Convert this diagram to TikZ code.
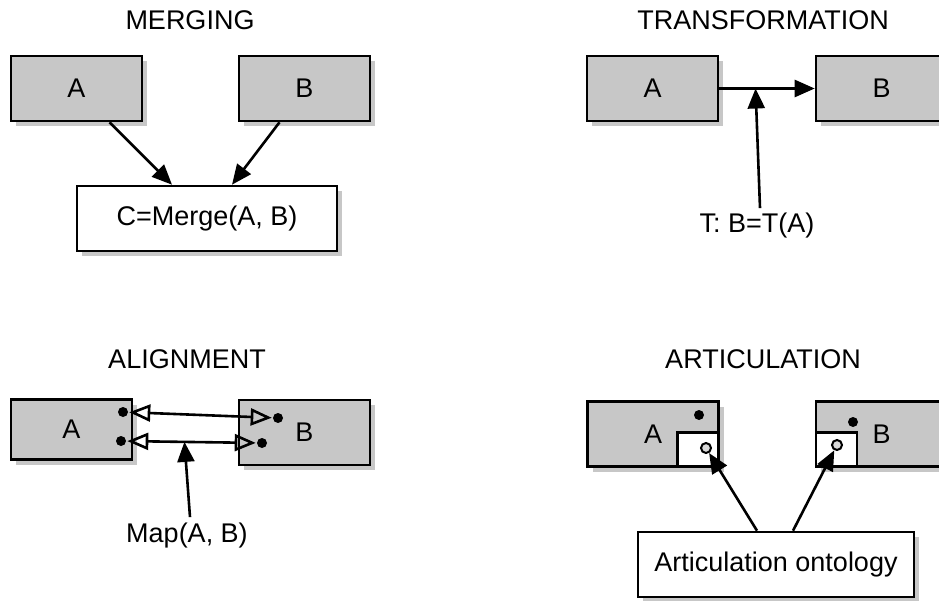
\documentclass[tikz,border=0pt]{standalone}
\usepackage{fontspec}
\setmainfont{Liberation Sans}
\usetikzlibrary{arrows.meta,shadows,calc}

\begin{document}
\begin{tikzpicture}[x=1pt, y=-1pt, line width=2.6pt,
        font=\fontsize{27}{32}\selectfont,
        onto/.style={rectangle, draw, fill=black!22, minimum width=131pt, minimum height=65pt, inner sep=0pt,
            drop shadow={shadow xshift=5pt, shadow yshift=-5pt, fill=black, opacity=0.22}},
        result/.style={onto, fill=white},
        part/.style={rectangle, draw, fill=white, minimum width=41pt, minimum height=34pt, inner sep=0pt},
        dot/.style={circle, fill, inner sep=0pt, minimum size=10pt},
        hole/.style={circle, draw, fill=black!15, inner sep=0pt, minimum size=10pt, line width=2pt},
        arr/.style={-{Triangle[length=20pt, width=17pt]}},
        maparr/.style={{Triangle[open, length=21pt, width=17pt]}-{Triangle[open, length=21pt, width=17pt]}}]
                        \useasboundingbox (0, 0) rectangle (939, 601);

                        \node (mTitle) at (190, 20) {MERGING};
                        \node (mA) at (76.5, 88.5) [onto] {A};
                        \node (mB) at (304.5, 88.5) [onto] {B};
                        \node (mC) at (207, 218.5) [result, minimum width=260pt] {C=Merge(A, B)};

                        \draw[arr] ([xshift=33pt]mA.south) -- ([xshift=-35pt]mC.north);
                        \draw[arr] ([xshift=-25pt]mB.south) -- ([xshift=25pt]mC.north);

                        \node (tTitle) at (763, 20) {TRANSFORMATION};
                        \node (tA) at (652.5, 88.5) [onto] {A};
                        \node (tB) at (881.5, 88.5) [onto] {B};
                        \node (tT) at (757, 233) [anchor=base, inner sep=4pt] {T: B=T(A)};
                        \coordinate (tM) at ($(tA.east)!0.38!(tB.west)$);

                        \draw[arr] (tA) -- (tB);
                        \draw[arr] ([xshift=3pt]tT.north) -- (tM);

                        \node (aTitle) at (187, 359) {ALIGNMENT};
                        \node (aA) at (71.5, 429.5) [onto, minimum width=121pt, minimum height=60pt] {A};
                        \node (aB) at (304.5, 432.5) [onto] {B};
                        \node (aA1) at (123, 412) [dot] {};
                        \node (aA2) at (121, 441) [dot] {};
                        \node (aB1) at (278, 418) [dot] {};
                        \node (aB2) at (262, 443) [dot] {};
                        \node (aMap) at (187, 542) [anchor=base, inner sep=4pt] {Map(A, B)};
                        \coordinate (aM) at ($(aA2)!0.45!(aB2)$);

                        \draw[maparr] (aA1) -- (aB1);
                        \draw[maparr] (aA2) -- (aB2);
                        \draw[arr] ([xshift=3pt]aMap.north) -- (aM);

                        \node (rTitle) at (763, 359) {ARTICULATION};
                        \node (rA) at (653, 434) [onto] {A};
                        \node (rApart) at (rA.south east) [part, anchor=south east] {};
                        \node (rAdot) at (699, 415) [dot] {};
                        \node (rAhole) at (706, 448) [hole] {};
                        \node (rB) at (881.5, 434) [onto] {B};
                        \node (rBpart) at (rB.south west) [part, anchor=south west] {};
                        \node (rBdot) at (853, 422) [dot] {};
                        \node (rBhole) at (837, 445) [hole] {};
                        \node (rOnto) at (776, 564.5) [result, minimum width=276pt] {Articulation ontology};

                        \draw[arr] ([xshift=-19pt]rOnto.north) -- (rAhole);
                        \draw[arr] ([xshift=17pt]rOnto.north) -- (rBhole);
                    \end{tikzpicture}
\end{document}
